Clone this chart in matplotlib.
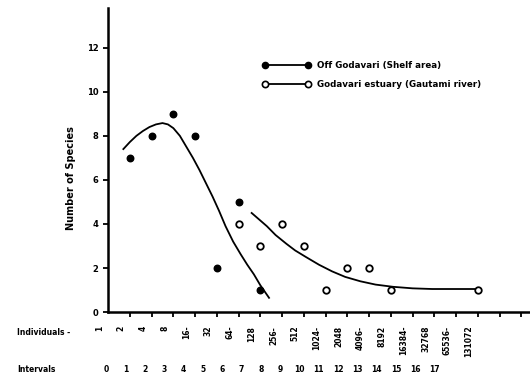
import numpy as np
import matplotlib.pyplot as plt

# Number of species per geometric abundance class (octaves)
shelf_x = [1, 2, 3, 4, 5, 6, 7]
shelf_y = [7, 8, 9, 8, 2, 5, 1]

estuary_x = [6, 7, 8, 9, 10, 11, 12, 13, 17]
estuary_y = [4, 3, 4, 3, 1, 2, 2, 1, 1]

# hand drawn trend curves
shelf_curve_x = [0.7, 1.0, 1.3, 1.6, 1.9, 2.2, 2.5, 2.75, 3.0, 3.3, 3.6, 3.9, 4.2, 4.5,
                 4.8, 5.1, 5.4, 5.75, 6.1, 6.4, 6.7, 7.0, 7.4]
shelf_curve_y = [7.4, 7.72, 8.0, 8.22, 8.4, 8.52, 8.58, 8.52, 8.35, 8.0, 7.5, 7.0, 6.45,
                 5.85, 5.25, 4.6, 3.9, 3.2, 2.62, 2.15, 1.72, 1.22, 0.65]
estuary_curve_x = [6.6, 7.3, 7.7, 8.2, 8.6, 9.1, 9.7, 10.3, 10.9, 11.6, 12.3, 13.1, 14.0,
                   14.9, 16.0, 17.1]
estuary_curve_y = [4.5, 3.9, 3.5, 3.1, 2.8, 2.5, 2.15, 1.85, 1.6, 1.4, 1.25, 1.15, 1.08,
                   1.05, 1.05, 1.05]

individuals = ["1", "2", "4", "8", "16-", "32", "64-", "128", "256-", "512", "1024-",
               "2048", "4096-", "8192", "16384-", "32768", "65536-", "131072"]
intervals = [str(i) for i in range(18)]

plt.rcParams['font.family'] = 'DejaVu Sans'
fig = plt.figure(figsize=(5.3, 3.83), dpi=100)
ax = fig.add_axes([0.204, 0.185, 0.796, 0.794])

ax.plot(shelf_curve_x, shelf_curve_y, color='black', lw=1.3)
ax.plot(estuary_curve_x, estuary_curve_y, color='black', lw=1.3)
ax.scatter(shelf_x, shelf_y, s=22, color='black', zorder=3)
ax.scatter(estuary_x, estuary_y, s=22, facecolor='white', edgecolor='black', lw=1.3, zorder=3)

ax.set_xlim(0, 19.4)
ax.set_ylim(0, 13.8)
ax.set_yticks([0, 2, 4, 6, 8, 10, 12])
ax.set_xticks(np.arange(1, 20))
ax.set_xticklabels([])
ax.tick_params(axis='both', direction='out', length=3.5, width=1.3, labelsize=6)
for lab in ax.get_yticklabels():
    lab.set_fontweight('bold')
ax.spines['top'].set_visible(False)
ax.spines['right'].set_visible(False)
ax.spines['left'].set_linewidth(1.8)
ax.spines['bottom'].set_linewidth(1.8)
ax.set_ylabel("Number of Species", fontsize=7, fontweight='bold')
ax.yaxis.set_label_coords(-0.075, 0.44)

# two rows of labels under the axis
trans = ax.get_xaxis_transform()
for k, lab in enumerate(individuals):
    ax.text(k - 0.4, -0.045, lab, transform=trans, rotation=90, ha='center', va='top',
            fontsize=5.5, fontweight='bold')
for k, lab in enumerate(intervals):
    ax.text(k * 0.89 - 0.1, -0.19, lab, transform=trans, ha='center', va='center',
            fontsize=5.5, fontweight='bold')
fig.text(0.032, 0.133, "Individuals -", fontsize=5.5, fontweight='bold', va='center')
fig.text(0.032, 0.034, "Intervals", fontsize=5.5, fontweight='bold', va='center')

# legend drawn as in the original
ax.plot([7.2, 9.2], [11.2, 11.2], color='black', lw=1.3, marker='o', ms=4.5)
ax.plot([7.2, 9.2], [10.35, 10.35], color='black', lw=1.3, marker='o', ms=4.5,
        mfc='white', mew=1.2)
ax.text(9.6, 11.2, "Off Godavari (Shelf area)", fontsize=6.3, fontweight='bold',
        va='center')
ax.text(9.6, 10.35, "Godavari estuary (Gautami river)", fontsize=6.3, fontweight='bold',
        va='center')

plt.savefig("out.png", dpi=100)
